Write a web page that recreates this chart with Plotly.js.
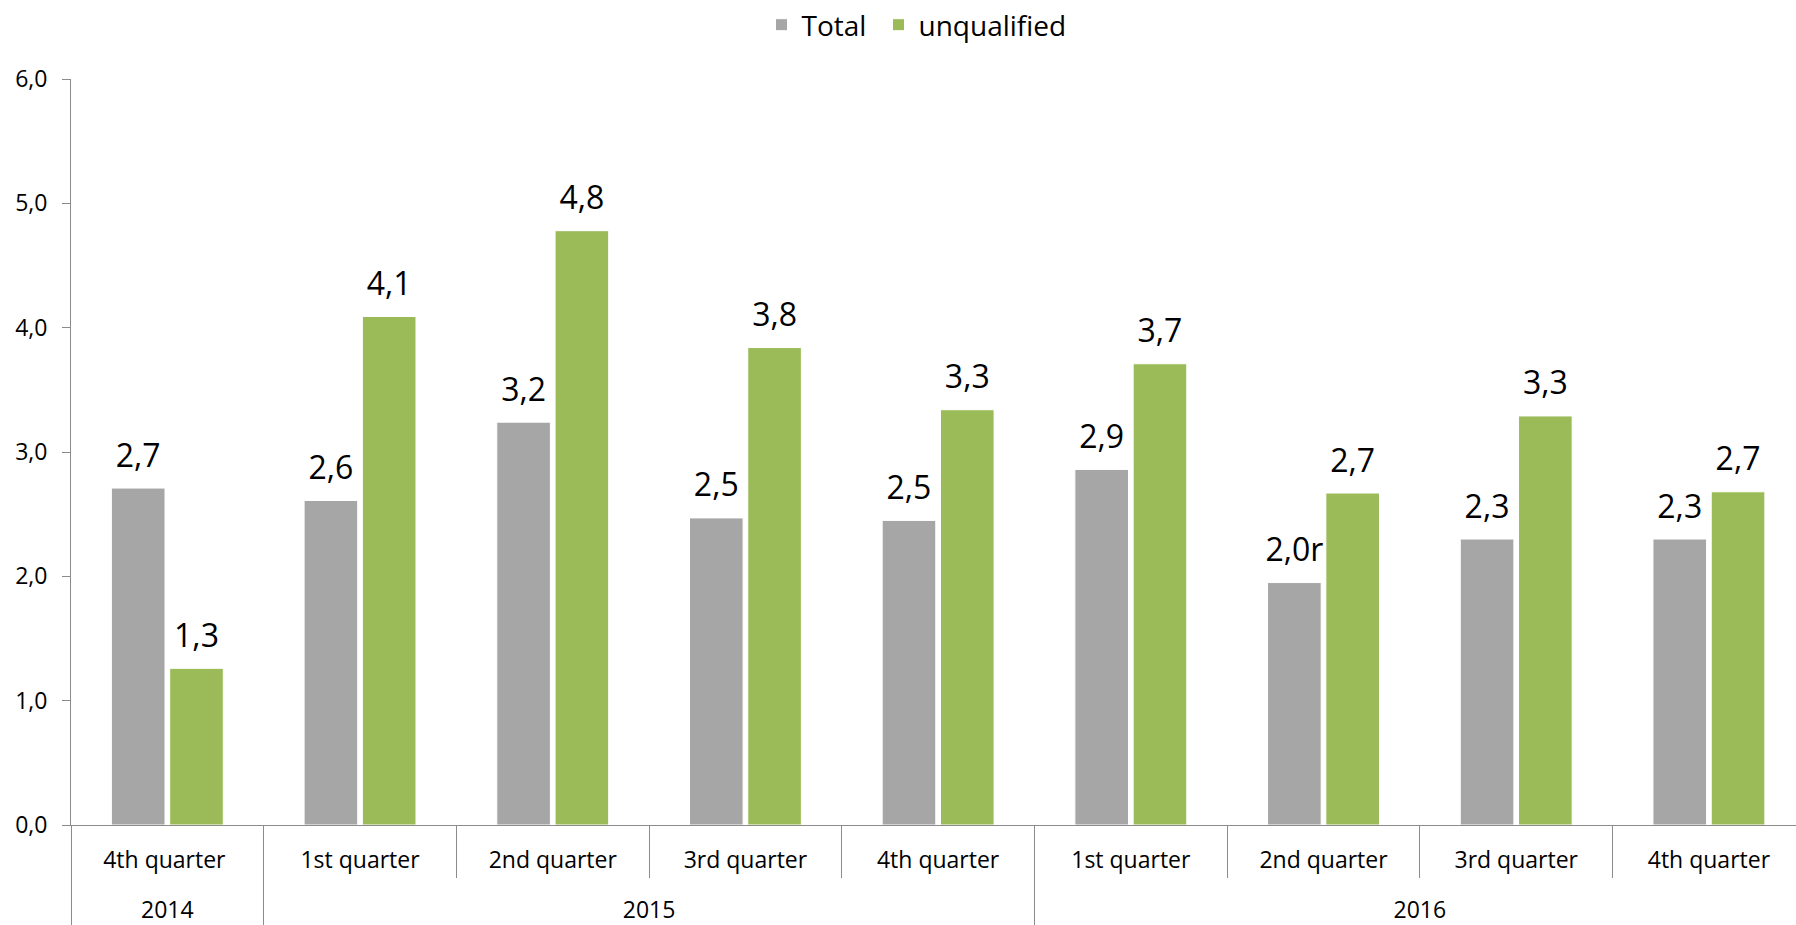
<!DOCTYPE html>
<html>
<head>
<meta charset="utf-8">
<script src="https://cdn.plot.ly/plotly-3.0.1.min.js"></script>
<style>html,body{margin:0;padding:0;background:#fff;}#chart{width:1796px;height:925px;}</style>
</head>
<body>
<div id="chart"></div>
<script>
// ---- data ----
const years = ['2014', '2015', '2015', '2015', '2015', '2016', '2016', '2016', '2016'];
// (the 2014 label carries a trailing space so that Plotly keeps the quarters in data order)
const quarters = ['4th quarter ', '1st quarter', '2nd quarter', '3rd quarter', '4th quarter',
                  '1st quarter', '2nd quarter', '3rd quarter', '4th quarter'];
const totalValues = [2.71, 2.61, 3.24, 2.47, 2.45, 2.86, 1.95, 2.30, 2.30];
const totalLabels = ['2,7', '2,6', '3,2', '2,5', '2,5', '2,9', '2,0r', '2,3', '2,3'];
const unqualifiedValues = [1.26, 4.09, 4.78, 3.84, 3.34, 3.71, 2.67, 3.29, 2.68];
const unqualifiedLabels = ['1,3', '4,1', '4,8', '3,8', '3,3', '3,7', '2,7', '3,3', '2,7'];
const seriesNames = ['Total', 'unqualified'];
const yTicks = [0, 1, 2, 3, 4, 5, 6];

const FONT = 'Open Sans, Noto Sans, sans-serif';
const AXIS = '#8C8C8C';
const xRange = [-0.5, 8.452];
const colors = ['#A6A6A6', '#9BBB59'];
// year row is set one line lower than the quarter row, as in the original
const yearRow = years.map(y => '<br>' + y);

function barTrace(name, values, color) {
  return {
    type: 'bar', name: name,
    x: [yearRow, quarters], y: values,
    marker: {color: color, line: {color: '#FFFFFF', width: 1}},
    hoverinfo: 'skip'
  };
}
function labelTrace(values, labels) {
  return {
    type: 'scatter', mode: 'markers+text', showlegend: false,
    x: [yearRow, quarters], y: values,
    text: labels, textposition: 'top center', cliponaxis: false,
    textfont: {family: FONT, size: 32, color: '#000'},
    marker: {size: 20, opacity: 0},
    hoverinfo: 'skip'
  };
}

const totalBars = barTrace(seriesNames[0], totalValues, colors[0]);
totalBars.legendwidth = 72;

const traces = [
  totalBars,
  barTrace(seriesNames[1], unqualifiedValues, colors[1]),
  labelTrace(totalValues, totalLabels),
  labelTrace(unqualifiedValues, unqualifiedLabels),
  {
    type: 'scatter', mode: 'none', x: [0], y: [0], xaxis: 'x2',
    showlegend: false, hoverinfo: 'skip'
  }
];

const layout = {
  width: 1796, height: 925,
  margin: {l: 71, r: 0, t: 79, b: 100},
  paper_bgcolor: '#FFFFFF', plot_bgcolor: '#FFFFFF',
  font: {family: FONT, color: '#000'},
  separators: ', ',
  barmode: 'group', bargap: 0.395, bargroupgap: 0.08,
  scattermode: 'group', scattergap: 0.395,
  showlegend: true,
  legend: {
    orientation: 'h', xref: 'container', yref: 'container',
    x: 0.424, xanchor: 'left', y: 1.0, yanchor: 'top',
    font: {family: FONT, size: 28, color: '#000'},
    traceorder: 'normal'
  },
  xaxis: {
    type: 'multicategory', range: xRange,
    showline: true, linecolor: AXIS, linewidth: 1,
    ticks: '', ticklabelstandoff: 14,
    showgrid: false, zeroline: false,
    showdividers: true, dividercolor: AXIS, dividerwidth: 1,
    tickfont: {family: FONT, size: 23, color: '#000'},
    fixedrange: true
  },
  xaxis2: {
    type: 'linear', overlaying: 'x', anchor: 'y', side: 'bottom',
    range: xRange, tickmode: 'linear', tick0: 0.5, dtick: 1,
    ticks: 'outside', ticklen: 52, tickcolor: AXIS, tickwidth: 1,
    showticklabels: false, showgrid: false, zeroline: false, showline: false,
    fixedrange: true
  },
  yaxis: {
    range: [0, 6], tickmode: 'array', tickvals: yTicks,
    tickformat: '.1f',
    showline: true, linecolor: AXIS, linewidth: 1,
    ticks: 'outside', ticklen: 8, tickcolor: AXIS,
    ticklabelstandoff: 10,
    showgrid: false, zeroline: false,
    tickfont: {family: FONT, size: 23, color: '#000'},
    fixedrange: true
  }
};

Plotly.newPlot('chart', traces, layout, {displayModeBar: false, staticPlot: true});
</script>
</body>
</html>
